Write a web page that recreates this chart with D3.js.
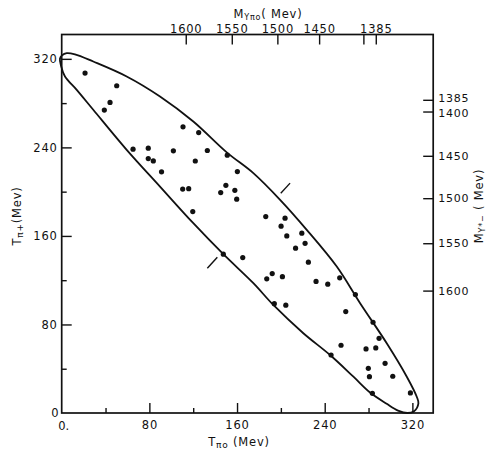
<!DOCTYPE html>
<html>
<head>
<meta charset="utf-8">
<script src="https://cdn.jsdelivr.net/npm/d3@7"></script>
<style>
  html, body { margin: 0; padding: 0; background: #fff; }
  svg { display: block; }
  text { font-family: "DejaVu Sans", sans-serif; fill: #111; }
</style>
</head>
<body>
<svg id="chart" width="488" height="450"></svg>
<script>
// Events: kinetic energy of the pi0 (x) and pi+ (y), MeV
const tPi0 = [21.3, 50.2, 44.1, 38.9, 65.1, 79.0, 79.0, 83.6, 91.1, 101.9, 110.7, 125.0, 132.9, 121.9,
  151.1, 160.3, 110.4, 115.9, 119.6, 145.1, 149.8, 158.0, 159.7, 186.2, 203.8, 200.2, 205.4, 219.1,
  222.1, 213.4, 147.5, 165.2, 225.1, 192.1, 187.1, 201.4, 232.1, 194.0, 204.5, 242.8, 253.7, 268.0,
  259.2, 284.1, 289.6, 286.6, 277.7, 254.9, 245.8, 295.1, 279.8, 280.8, 302.1, 283.5, 318.2];
const tPiPlus = [307.1, 295.7, 280.6, 273.7, 238.4, 239.3, 229.9, 227.8, 217.9, 236.9, 258.6, 253.4, 237.2, 227.7,
  233.0, 218.1, 202.3, 202.7, 182.0, 199.2, 205.7, 201.2, 193.2, 177.5, 176.0, 168.8, 160.0, 162.5,
  153.3, 148.9, 143.5, 140.4, 136.3, 126.0, 121.2, 123.2, 118.9, 98.8, 97.4, 116.4, 122.1, 107.0,
  91.6, 82.0, 67.5, 58.8, 57.9, 61.2, 52.4, 44.9, 40.4, 32.8, 33.2, 17.8, 18.1];

// Kinematic boundary of the plot, traced as (T_pi0, T_pi+) pairs
const boundaryT0 = [-1.6, 0.3, 4.6, 12.1, 28.8, 59.3, 89.7, 120.1, 150.6, 174.9, 199.3, 223.6, 251.0, 272.3,
  296.6, 314.9, 324.0, 325.5, 321.5, 315.5,
  306.9, 296.6, 281.4, 266.2, 244.9, 220.5, 193.1, 174.9, 147.5, 120.1, 89.7, 59.3, 28.8, 13.7, 3.0, -0.6];
const boundaryTp = [320.1, 323.2, 325.2, 324.1, 317.6, 304.1, 286.0, 263.4, 235.5, 216.7, 192.6, 165.5, 132.3, 99.2,
  63.0, 32.8, 14.7, 8.8, 1.6, 0.0,
  2.2, 8.3, 18.5, 32.8, 52.4, 72.1, 97.6, 117.3, 143.5, 171.5, 204.6, 237.8, 274.0, 292.0, 304.1, 313.7];

// Short marks across the band where T_pi0 = T_pi+
const crossMarks = [
  [[199.9, 198.6], [208.4, 207.7]],
  [[132.9, 130.8], [142.0, 140.8]]
];

// Linear kinetic-energy axes
const majorTicks = [80, 160, 240, 320];
const minorTicks = [40, 120, 200, 280];

// Invariant-mass axes: mass value and the kinetic energy it falls at
const topMass = [1600, 1550, 1500, 1450, 1400, 1385];
const topMassT = [113.2, 155.2, 196.8, 234.9, 275.3, 286.6];
const rightMass = [1600, 1550, 1500, 1450, 1400, 1385];
const rightMassT = [110.6, 153.4, 194.1, 232.4, 272.4, 283.0];

const svg = d3.select("#chart");
const plotL = 61.7, plotR = 433.2, plotT = 34.5, plotB = 413;

const x = d3.scaleLinear().domain([0, 339]).range([plotL, plotR]);
const y = d3.scaleLinear().domain([0, 342]).range([plotB, plotT]);
const massX = d3.scaleLinear().domain(topMass).range(topMassT.map(x));
const massY = d3.scaleLinear().domain(rightMass).range(rightMassT.map(y));

const ink = "#111";
const fmt = d3.format("d");

function styleAxis(g, size) {
  g.select(".domain").remove();
  g.selectAll(".tick line").attr("stroke", ink).attr("stroke-width", 1.4);
  g.selectAll(".tick text").attr("font-size", size).attr("letter-spacing", "0.8px").attr("fill", ink);
}

// Bottom axis (ticks point into the plot)
svg.append("g").attr("transform", `translate(0,${plotB})`)
  .call(d3.axisBottom(x).tickValues(majorTicks).tickSize(-10).tickSizeOuter(0).tickPadding(8).tickFormat(fmt))
  .call(g => styleAxis(g, 11.5));
svg.append("g").attr("transform", `translate(0,${plotB})`)
  .call(d3.axisBottom(x).tickValues(minorTicks).tickSize(-5).tickSizeOuter(0).tickFormat(""))
  .call(g => styleAxis(g, 11.5));

// Left axis
svg.append("g").attr("transform", `translate(${plotL},0)`)
  .call(d3.axisLeft(y).tickValues(majorTicks).tickSize(-10).tickSizeOuter(0).tickPadding(4).tickFormat(fmt))
  .call(g => styleAxis(g, 11.5));
svg.append("g").attr("transform", `translate(${plotL},0)`)
  .call(d3.axisLeft(y).tickValues(minorTicks).tickSize(-5).tickSizeOuter(0).tickFormat(""))
  .call(g => styleAxis(g, 11.5));

// Origin labels
svg.append("text").attr("x", x(0) + 2).attr("y", plotB + 16.5).attr("text-anchor", "middle")
  .attr("font-size", 11.5).text("0.");
svg.append("text").attr("x", plotL - 3).attr("y", y(0) + 4).attr("text-anchor", "end")
  .attr("font-size", 11.5).text("0");

// Top mass axis
svg.append("g").attr("transform", `translate(0,${plotT})`)
  .call(d3.axisTop(massX).tickValues(topMass).tickSize(-10).tickSizeOuter(0).tickPadding(1.5)
    .tickFormat(d => d === 1400 ? "" : fmt(d)))
  .call(g => styleAxis(g, 11.5));

// Right mass axis; the two closely spaced labels are nudged apart
svg.append("g").attr("transform", `translate(${plotR},0)`)
  .call(d3.axisRight(massY).tickValues(rightMass).tickSize(-10).tickSizeOuter(0).tickPadding(5).tickFormat(fmt))
  .call(g => styleAxis(g, 11))
  .call(g => g.selectAll(".tick text")
    .attr("y", d => d === 1385 ? -1.5 : d === 1400 ? 1.5 : 0));

// Frame
svg.append("rect").attr("x", plotL).attr("y", plotT)
  .attr("width", plotR - plotL).attr("height", plotB - plotT)
  .attr("fill", "none").attr("stroke", ink).attr("stroke-width", 1.7);

// Boundary curve
const boundary = d3.line()
  .x(d => x(d[0])).y(d => y(d[1]))
  .curve(d3.curveCatmullRomClosed.alpha(0.5));
svg.append("path")
  .datum(boundaryT0.map((t, i) => [t, boundaryTp[i]]))
  .attr("d", boundary)
  .attr("fill", "none").attr("stroke", ink).attr("stroke-width", 1.8);

// Cross marks
svg.selectAll("line.cross").data(crossMarks).join("line")
  .attr("class", "cross")
  .attr("x1", d => x(d[0][0])).attr("y1", d => y(d[0][1]))
  .attr("x2", d => x(d[1][0])).attr("y2", d => y(d[1][1]))
  .attr("stroke", ink).attr("stroke-width", 1.4);

// Events
svg.selectAll("circle.ev").data(tPi0.map((t, i) => [t, tPiPlus[i]])).join("circle")
  .attr("class", "ev")
  .attr("cx", d => x(d[0])).attr("cy", d => y(d[1]))
  .attr("r", 2.6).attr("fill", ink);

// Axis titles
const bt = svg.append("text").attr("x", 239).attr("y", 446).attr("text-anchor", "middle")
  .attr("font-size", 11.5).attr("letter-spacing", "0.8px");
bt.append("tspan").text("T");
bt.append("tspan").attr("font-size", 9).attr("dy", 2).text("πo");
bt.append("tspan").attr("dy", -2).text(" (Mev)");

const lt = svg.append("text").attr("transform", "translate(21,216) rotate(-90)").attr("text-anchor", "middle")
  .attr("font-size", 11.5).attr("letter-spacing", "0.8px");
lt.append("tspan").text("T");
lt.append("tspan").attr("font-size", 9).attr("dy", 2).text("π+");
lt.append("tspan").attr("dy", -2).text("(Mev)");

const tt = svg.append("text").attr("x", 268).attr("y", 17.5).attr("text-anchor", "middle")
  .attr("font-size", 11.5).attr("letter-spacing", "0.8px");
tt.append("tspan").text("M");
tt.append("tspan").attr("font-size", 8).attr("dy", 2).text("Yπo");
tt.append("tspan").attr("dy", -2).text("( Mev)");

const rt = svg.append("text").attr("transform", "translate(483,206) rotate(-90)").attr("text-anchor", "middle")
  .attr("font-size", 11.5).attr("letter-spacing", "0.8px");
rt.append("tspan").text("M");
rt.append("tspan").attr("font-size", 8).attr("dy", 2).text("Y*−");
rt.append("tspan").attr("dy", -2).text(" ( Mev)");
</script>
</body>
</html>
